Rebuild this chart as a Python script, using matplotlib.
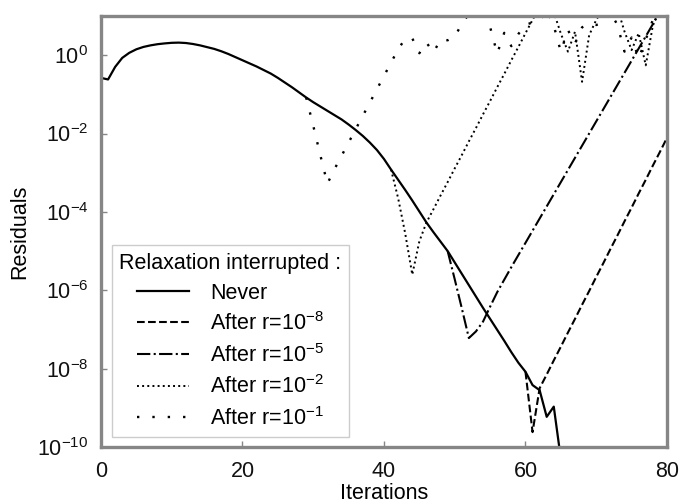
import numpy as np
import matplotlib
matplotlib.use("Agg")
import matplotlib.pyplot as plt
from matplotlib.ticker import NullLocator, FixedLocator

plt.rcParams['font.family'] = ['Liberation Sans', 'DejaVu Sans']
plt.rcParams['mathtext.fontset'] = 'custom'
plt.rcParams['mathtext.rm'] = 'Liberation Sans'
plt.rcParams['mathtext.it'] = 'Liberation Sans:italic'
plt.rcParams['mathtext.bf'] = 'Liberation Sans:bold'

# residuals, stored as log10 exponents
never_start = 0
never_log10 = [-0.58, -0.62, -0.30, -0.07, 0.06, 0.15, 0.21, 0.25, 0.28, 0.30,
               0.315, 0.32, 0.31, 0.285, 0.25, 0.205, 0.16, 0.10, 0.03, -0.05,
               -0.13, -0.21, -0.29, -0.38, -0.47, -0.58, -0.70, -0.82, -0.95, -1.08,
               -1.20, -1.31, -1.42, -1.53, -1.64, -1.77, -1.91, -2.06, -2.23, -2.42,
               -2.65, -2.92, -3.18, -3.44, -3.71, -3.99, -4.27, -4.52, -4.76, -5.00,
               -5.29, -5.58, -5.87, -6.16, -6.45, -6.73, -7.01, -7.29, -7.58, -7.85,
               -8.08, -8.42, -8.55, -9.23, -8.97, -10.3]

r8_start = 60
r8_log10 = [-8.08, -9.62, -8.50, -8.15, -7.79, -7.44, -7.08, -6.73, -6.37, -6.02,
            -5.66, -5.31, -4.95, -4.60, -4.24, -3.89, -3.53, -3.18, -2.82, -2.47,
            -2.11]

r5_start = 49
r5_log10 = [-5.00, -5.72, -6.46, -7.22, -7.05, -6.80, -6.42, -6.05, -5.73, -5.41,
            -5.10, -4.79, -4.48, -4.17, -3.86, -3.55, -3.24, -2.93, -2.62, -2.31,
            -2.00, -1.69, -1.38, -1.07, -0.76, -0.45, -0.14, 0.17, 0.48, 0.79,
            1.10, 1.41]

r2_start = 41
r2_log10 = [-2.92, -3.65, -4.55, -5.60, -4.75, -4.27, -3.93, -3.58, -3.24, -2.89,
            -2.55, -2.20, -1.86, -1.51, -1.17, -0.82, -0.48, -0.13, 0.21, 0.56,
            0.90, 1.25, 1.30, 1.10, 0.55, 0.09, 0.60, -0.68, 0.51, 0.90,
            1.20, 1.30, 1.20, 0.60, 0.13, 0.56, -0.26, 0.75, 1.20, 1.30]

r1_start = 29
r1_log10 = [-1.08, -1.80, -2.55, -3.28, -2.91, -2.57, -2.23, -1.89, -1.55, -1.21,
            -0.87, -0.53, -0.19, 0.15, 0.42, 0.43, 0.05, 0.32, 0.07, 0.40,
            0.38, 0.47, 0.80, 1.05, 1.30, 1.10, 0.72, 0.04, 0.57, 0.23,
            0.54, 0.78, 0.83, 0.87, 1.15, 0.75, 0.09, 0.64, 0.30, 0.71,
            0.80, 0.77, 0.83, 1.10, 0.77, 0.09, 0.45, -0.08, 0.40, 0.90,
            1.20, 1.30]

labels = ["Never", r"After r=10$^{-8}$", r"After r=10$^{-5}$",
          r"After r=10$^{-2}$", r"After r=10$^{-1}$"]
xticks = [0, 20, 40, 60, 80]
yticks = [1e-10, 1e-8, 1e-6, 1e-4, 1e-2, 1e0]


def series(start, logs):
    x = np.arange(start, start + len(logs))
    return x, 10.0 ** np.array(logs)


fig = plt.figure(figsize=(6.81, 5.04), dpi=100)
ax = fig.add_axes([0.1483, 0.1131, 0.8311, 0.8552])

styles = [
    ("-", 1.6),
    ("--", 1.5),
    ("-.", 1.5),
    (":", 1.4),
    ((0, (1, 5.5)), 1.7),
]
data = [(never_start, never_log10), (r8_start, r8_log10), (r5_start, r5_log10),
        (r2_start, r2_log10), (r1_start, r1_log10)]

for (start, logs), (ls, lw), lab in zip(data, styles, labels):
    x, y = series(start, logs)
    ax.plot(x, y, color="black", linestyle=ls, linewidth=lw, label=lab)

ax.set_yscale("log")
ax.set_xlim(0, 80)
ax.set_ylim(1e-10, 1e1)
ax.xaxis.set_major_locator(FixedLocator(xticks))
ax.yaxis.set_major_locator(FixedLocator(yticks))
ax.yaxis.set_minor_locator(NullLocator())

for sp in ax.spines.values():
    sp.set_color("#868686")
    sp.set_linewidth(2.4)

fs = 15.5
ax.tick_params(axis="both", direction="in", length=4, width=1,
               color="#868686", labelsize=fs, labelcolor="#111111")
ax.tick_params(axis="x", pad=10)
ax.tick_params(axis="y", pad=9)

ax.set_xlabel("Iterations", fontsize=fs, labelpad=1)
ax.set_ylabel("Residuals", fontsize=fs, labelpad=5)

leg = ax.legend(title="Relaxation interrupted :", loc="lower left",
                bbox_to_anchor=(0.019, 0.023), borderaxespad=0,
                fontsize=fs, title_fontsize=fs, fancybox=False,
                framealpha=1, edgecolor="#cccccc", handlelength=2.4,
                handletextpad=1.0, labelspacing=0.4, borderpad=0.35)
leg.get_frame().set_linewidth(1.0)

fig.savefig("out.png", dpi=100)
